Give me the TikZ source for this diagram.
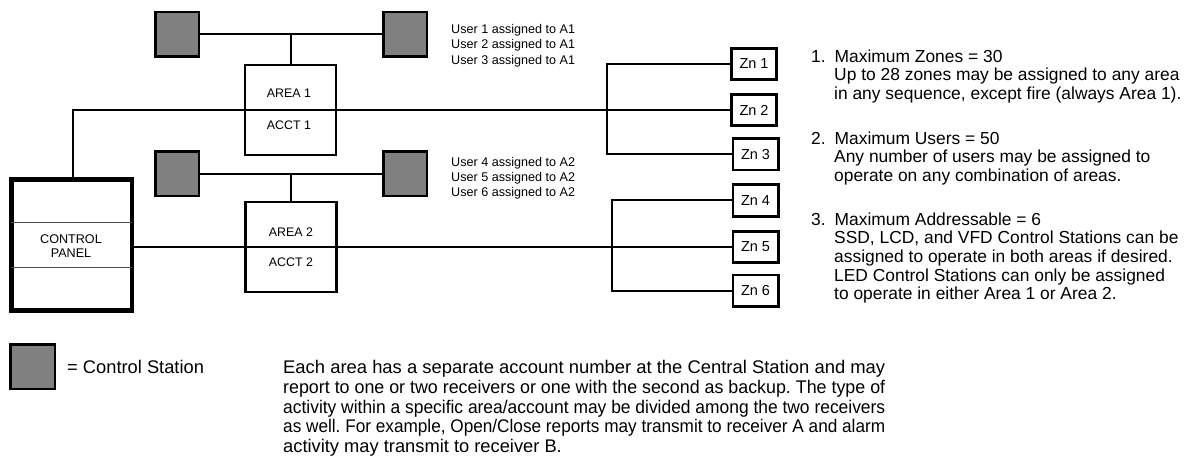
\documentclass[tikz,border=0pt]{standalone}
\usepackage{fontspec}
\usepackage{graphicx}
\setmainfont{Liberation Sans}
\definecolor{stgray}{RGB}{128,128,128}
\newcommand\jline[1]{\resizebox{602pt}{\height}{\frenchspacing #1}}
\begin{document}
\begin{tikzpicture}[x=1pt,y=-1pt,
  wire/.style={line width=2pt},
  station/.style={draw=black, fill=stgray, line width=2.5pt, minimum width=43.5pt, minimum height=44.5pt, inner sep=0pt},
  areabox/.style={draw=black, line width=2.2pt, minimum width=91pt, minimum height=90pt, inner sep=0pt},
  zonebox/.style={draw=black, line width=2.7pt, minimum width=45.3pt, minimum height=31.3pt, inner sep=0pt, font=\fontsize{14.5}{16}\selectfont},
  panelbox/.style={draw=black, line width=4.5pt, minimum width=120.1pt, minimum height=130.8pt, inner sep=0pt},
  divider/.style={line width=1pt, draw=black!70, shorten >=2pt, shorten <=2pt},
  lbl/.style={inner sep=0pt, anchor=base, font=\fontsize{12.4}{14}\selectfont},
  usertxt/.style={inner sep=0pt, anchor=base west, font=\fontsize{12.6}{15}\selectfont},
  notetxt/.style={inner sep=0pt, anchor=base west, font=\fontsize{17.4}{19}\selectfont},
  paratxt/.style={inner sep=0pt, anchor=base west, font=\fontsize{18.3}{20}\selectfont}]
\useasboundingbox (0,0) rectangle (1188,457);

% control stations
\node[station] (s1) at (177,34.5) {};
\node[station] (s2) at (405,34.5) {};
\node[station] (s3) at (177,174) {};
\node[station] (s4) at (405,174) {};

% areas
\node[areabox] (a1) at (290.5,110) {};
\node[areabox] (a2) at (291,247) {};
\node[lbl] (a1t) at (289,97.3) {AREA 1};
\node[lbl] (a1b) at (289,129.3) {ACCT 1};
\node[lbl] (a2t) at (291,236) {AREA 2};
\node[lbl] (a2b) at (291,266.3) {ACCT 2};

% control panel
\node[panelbox] (cp) at (71.7,245) {};
\coordinate (d1) at (0,222.3);
\coordinate (d2) at (0,267.3);
\draw[divider] (cp.west |- d1) -- (cp.east |- d1);
\draw[divider] (cp.west |- d2) -- (cp.east |- d2);
\node[lbl, font=\fontsize{12.6}{14}\selectfont] (cpt) at (71,243.5) {CONTROL};
\node[lbl, font=\fontsize{12.6}{14}\selectfont] (cpb) at (71,257.8) {PANEL};

% zones
\node[zonebox] (z1) at (754,64) {Zn 1};
\node[zonebox] (z2) at (754,110) {Zn 2};
\node[zonebox] (z3) at (755.5,154.5) {Zn 3};
\node[zonebox] (z4) at (755.5,200.5) {Zn 4};
\node[zonebox] (z5) at (755.5,247) {Zn 5};
\node[zonebox] (z6) at (755.5,290.5) {Zn 6};

% wiring
\coordinate (k1) at (73.3,110);
\coordinate (t1) at (606.7,110);
\coordinate (t2) at (611.7,247);
\draw[wire] (cp.north -| k1) -- (k1) -- (z2.west);
\draw[wire] (z1.west) -- (z1.west -| t1) -- (z3.west -| t1) -- (z3.west);
\draw[wire] (cp.east |- a2.center) -- (z5.west);
\draw[wire] (z4.west) -- (z4.west -| t2) -- (z6.west -| t2) -- (z6.west);
\draw[wire] (s1.east) -- (s2.west);
\draw[wire] (a1.north) -- (a1.north |- s1.east);
\draw[wire] (s3.east) -- (s4.west);
\draw[wire] (a2.north) -- (a2.north |- s3.east);

% user texts
\node[usertxt] (u1) at (451,33.5) {User 1 assigned to A1};
\node[usertxt] (u2) at (451,48.8) {User 2 assigned to A1};
\node[usertxt] (u3) at (451,64.5) {User 3 assigned to A1};
\node[usertxt] (u4) at (451,167) {User 4 assigned to A2};
\node[usertxt] (u5) at (451,181.5) {User 5 assigned to A2};
\node[usertxt] (u6) at (451,196.5) {User 6 assigned to A2};

% notes
\node[notetxt] (n1) at (811,62.3) {1.};
\node[notetxt] (n1a) at (834.5,62.3) {Maximum Zones = 30};
\node[notetxt] (n1b) at (834,80.9) {Up to 28 zones may be assigned to any area};
\node[notetxt] (n1c) at (834,99.5) {in any sequence, except fire (always Area 1).};
\node[notetxt] (n2) at (811,144.3) {2.};
\node[notetxt] (n2a) at (834.5,144.3) {Maximum Users = 50};
\node[notetxt] (n2b) at (834,162.9) {Any number of users may be assigned to};
\node[notetxt] (n2c) at (834,181.5) {operate on any combination of areas.};
\node[notetxt] (n3) at (811,225.3) {3.};
\node[notetxt] (n3a) at (834.5,225.3) {Maximum Addressable = 6};
\node[notetxt] (n3b) at (834,243.9) {SSD, LCD, and VFD Control Stations can be};
\node[notetxt] (n3c) at (834,262.5) {assigned to operate in both areas if desired.};
\node[notetxt] (n3d) at (834,281.1) {LED Control Stations can only be assigned};
\node[notetxt] (n3e) at (834,299.7) {to operate in either Area 1 or Area 2.};

% legend
\node[station, minimum width=44.5pt, minimum height=44.5pt] (leg) at (32.5,366.5) {};
\node[paratxt] (legt) at (67,373.2) {= Control Station};

% paragraph
\node[paratxt] (p1) at (283,373.5) {\jline{Each area has a separate account number at the Central Station and may}};
\node[paratxt] (p2) at (283,393.3) {\jline{report to one or two receivers or one with the second as backup. The type of}};
\node[paratxt] (p3) at (283,413.1) {\jline{activity within a specific area/account may be divided among the two receivers}};
\node[paratxt] (p4) at (283,432.9) {\jline{as well. For example, Open/Close reports may transmit to receiver A and alarm}};
\node[paratxt] (p5) at (283,452.7) {\frenchspacing activity may transmit to receiver B.};
\end{tikzpicture}
\end{document}
